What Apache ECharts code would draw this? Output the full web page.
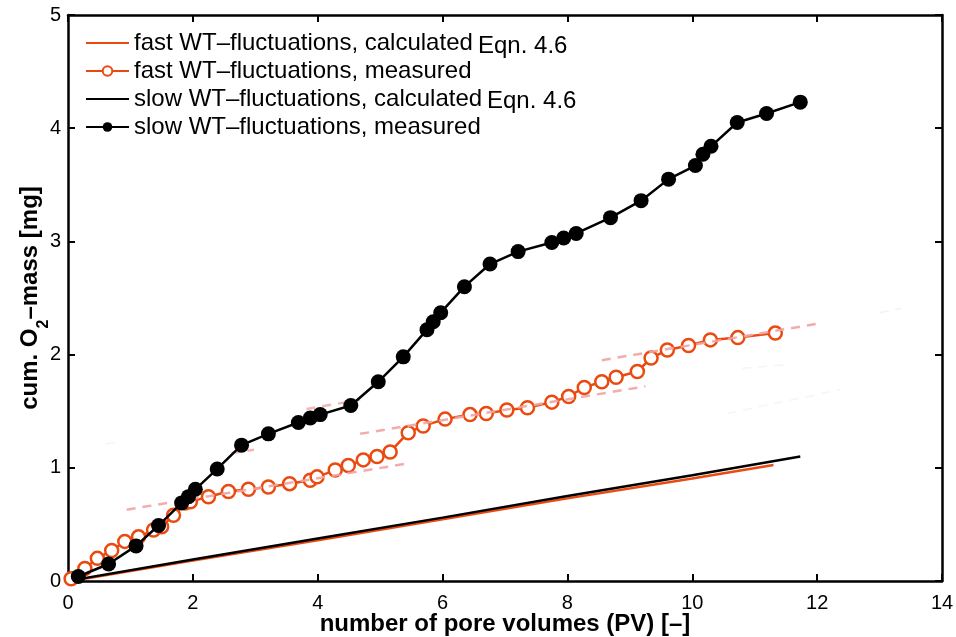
<!DOCTYPE html>
<html><head><meta charset="utf-8">
<script src="https://cdn.jsdelivr.net/npm/echarts@6/dist/echarts.min.js"></script>
<style>html,body{margin:0;padding:0;background:#fff}#c{width:956px;height:637px}</style>
</head><body><div id="c"></div>
<script>
// ---- data ----
const xTicks = [0, 2, 4, 6, 8, 10, 12, 14];
const yTicks = [0, 1, 2, 3, 4, 5];
const seriesNames = [
  'fast WT\u2013fluctuations, calculated',
  'fast WT\u2013fluctuations, measured',
  'slow WT\u2013fluctuations, calculated',
  'slow WT\u2013fluctuations, measured'
];
const eqnLabel = 'Eqn. 4.6';
const fastCalc = [[0.05,0.0],[2,0.18],[4,0.36],[6,0.545],[8,0.73],[10,0.905],[11.3,1.025]];
const slowCalc = [[0.1,0.01],[2,0.19],[4,0.375],[6,0.56],[8,0.75],[10,0.935],[11.73,1.10]];
const fastMeasX = [0.05,0.27,0.47,0.70,0.91,1.13,1.37,1.50,1.69,1.88,1.96,2.25,2.57,2.89,3.21,3.55,3.88,3.99,4.28,4.49,4.73,4.95,5.16,5.45,5.69,6.04,6.44,6.70,7.03,7.36,7.75,8.02,8.27,8.55,8.78,9.12,9.34,9.60,9.94,10.29,10.73,11.33];
const fastMeasY = [0.02,0.11,0.20,0.27,0.35,0.39,0.45,0.48,0.58,0.69,0.70,0.745,0.79,0.81,0.83,0.86,0.89,0.92,0.98,1.02,1.07,1.10,1.14,1.31,1.37,1.43,1.47,1.48,1.51,1.53,1.58,1.63,1.71,1.76,1.80,1.85,1.97,2.04,2.08,2.13,2.15,2.19];
const slowMeasX = [0.165,0.65,1.09,1.45,1.82,1.93,2.04,2.39,2.78,3.21,3.69,3.88,4.04,4.53,4.97,5.37,5.75,5.85,5.97,6.35,6.76,7.21,7.75,7.94,8.14,8.69,9.18,9.62,10.05,10.17,10.30,10.72,11.19,11.73];
const slowMeasY = [0.04,0.15,0.31,0.49,0.69,0.745,0.81,0.99,1.20,1.30,1.40,1.44,1.47,1.55,1.76,1.98,2.22,2.29,2.37,2.60,2.80,2.91,2.99,3.03,3.07,3.21,3.36,3.55,3.67,3.77,3.84,4.05,4.13,4.23];
// dashed trend-line segments (pink)
const trendA = [[0.94,0.63],[5.46,1.04]];
const trendB = [[2.62,1.13],[2.98,1.16]];
const trendC = [[3.82,1.52],[4.68,1.60]];
const trendD = [[4.68,1.30],[9.25,1.72]];
const trendE = [[8.55,1.95],[12.08,2.28]];
// very faint segments
const faint1 = [[10.56,1.48],[12.37,1.69]];
const faint2 = [[10.8,1.88],[11.5,1.91]];
const faint3 = [[13.0,2.37],[13.35,2.41]];
const faint4 = [[0.6,1.21],[0.75,1.225]];

const ORANGE = '#ea4a10';
const PINK = '#f2a3a3';
const FONT = "'Liberation Sans', Arial, Helvetica, sans-serif";
const zip = (xs, ys) => xs.map((x, i) => [x, ys[i]]);

const chart = echarts.init(document.getElementById('c'), null, {renderer: 'canvas'});

const axisCommon = {
  type: 'value',
  axisLine: {show: true, onZero: false, lineStyle: {color: '#000', width: 2.5}},
  axisTick: {show: true, inside: true, length: 7, lineStyle: {color: '#000', width: 2}},
  splitLine: {show: false}
};

function trend(d, op, w) {
  return {
    type: 'line', data: d, symbol: 'none', silent: true, z: 4,
    lineStyle: {color: PINK, width: w || 2.5, type: [9, 7], opacity: op},
    animation: false
  };
}

chart.setOption({
  animation: false,
  backgroundColor: '#fff',
  grid: {left: 68, right: 14, top: 15, bottom: 56, containLabel: false, outerBoundsMode: 'none'},
  xAxis: [
    Object.assign({}, axisCommon, {
      min: 0, max: 14, interval: 2, position: 'bottom',
      name: 'number of pore volumes (PV) [\u2013]', nameLocation: 'middle', nameGap: 31, nameMoveOverlap: false,
      nameTextStyle: {fontFamily: FONT, fontWeight: 'bold', fontSize: 24, color: '#000'},
      axisLabel: {fontFamily: FONT, fontSize: 20, color: '#000', margin: 12,
        formatter: v => xTicks.includes(v) ? String(v) : ''}
    }),
    Object.assign({}, axisCommon, {
      min: 0, max: 14, interval: 2, position: 'top', axisLabel: {show: false}
    })
  ],
  yAxis: [
    Object.assign({}, axisCommon, {
      min: 0, max: 5, interval: 1, position: 'left',
      name: 'cum. O{sub|2}\u2013mass [mg]', nameLocation: 'middle', nameGap: 26, nameRotate: 90, nameMoveOverlap: false,
      nameTextStyle: {fontFamily: FONT, fontWeight: 'bold', fontSize: 24, color: '#000',
        rich: {sub: {fontFamily: FONT, fontWeight: 'bold', fontSize: 16, color: '#000', verticalAlign: 'bottom', padding: [0,0,-10,0]}}},
      axisLabel: {fontFamily: FONT, fontSize: 20, color: '#000', margin: 7,
        formatter: v => yTicks.includes(v) ? String(v) : ''}
    }),
    Object.assign({}, axisCommon, {
      min: 0, max: 5, interval: 1, position: 'right', axisLabel: {show: false}
    })
  ],
  legend: {
    data: [
      {name: seriesNames[0], itemStyle: {opacity: 0}},
      {name: seriesNames[1]},
      {name: seriesNames[2], itemStyle: {opacity: 0}},
      {name: seriesNames[3]}
    ],
    orient: 'vertical', left: 85, top: 31, padding: 0,
    itemWidth: 43, itemHeight: 12, itemGap: 4,
    textStyle: {fontFamily: FONT, fontSize: 24, color: '#000', padding: [0,0,0,0]},
    backgroundColor: 'transparent', borderWidth: 0
  },
  graphic: [
    {type: 'text', left: 478, top: 34, style: {text: eqnLabel, fontFamily: FONT, fontSize: 24, fill: '#000'}},
    {type: 'text', left: 487, top: 89, style: {text: eqnLabel, fontFamily: FONT, fontSize: 24, fill: '#000'}}
  ],
  series: [
    {name: seriesNames[0], type: 'line', data: fastCalc, symbol: 'none', z: 2,
      lineStyle: {color: ORANGE, width: 2.5}, itemStyle: {color: ORANGE}},
    {name: seriesNames[1], type: 'line', data: zip(fastMeasX, fastMeasY), z: 3,
      symbol: 'circle', symbolSize: 13, showSymbol: true,
      lineStyle: {color: ORANGE, width: 2.5},
      itemStyle: {color: '#fff', borderColor: ORANGE, borderWidth: 2.5}},
    trend(trendA, 0.9), trend(trendB, 0.8), trend(trendC, 0.8), trend(trendD, 0.9), trend(trendE, 0.9),
    trend(faint1, 0.15, 1.5), trend(faint2, 0.15, 1.5), trend(faint3, 0.2, 1.5), trend(faint4, 0.15, 1.5),
    {name: seriesNames[2], type: 'line', data: slowCalc, symbol: 'none', z: 5,
      lineStyle: {color: '#000', width: 2.5}, itemStyle: {color: '#000'}},
    {name: seriesNames[3], type: 'line', data: zip(slowMeasX, slowMeasY), z: 6,
      symbol: 'circle', symbolSize: 15, showSymbol: true,
      lineStyle: {color: '#000', width: 2.5},
      itemStyle: {color: '#000', borderColor: '#000', borderWidth: 0}}
  ]
});
</script>
</body></html>
